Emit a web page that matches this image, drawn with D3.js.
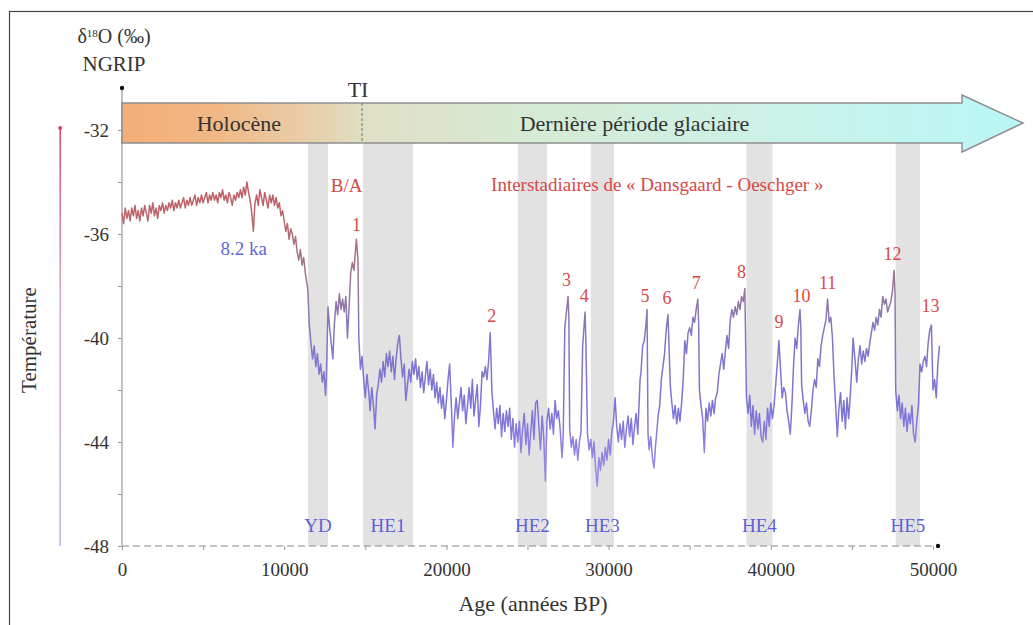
<!DOCTYPE html>
<html><head><meta charset="utf-8">
<script src="https://cdn.jsdelivr.net/npm/d3@7/dist/d3.min.js"></script>
<style>
html,body{margin:0;padding:0;background:#fff;}
svg text{font-family:"Liberation Serif","DejaVu Serif",serif;}
</style></head>
<body><svg id="chart" width="1033" height="625"></svg>
<script>
// ---------- DATA ----------
// NGRIP δ18O record: [age in ka BP, δ18O ‰]
const ngrip = [
[0,-35.2],[0.1,-35.6],[0.2,-35.0],[0.3,-35.4],[0.4,-35.1],[0.5,-35.5],[0.6,-35.0],[0.7,-35.3],[0.8,-34.9],[0.9,-35.4],[1.0,-35.1],[1.1,-35.5],[1.2,-35.0],[1.3,-35.3],[1.4,-34.9],[1.5,-35.2],[1.6,-35.5],[1.7,-34.9],[1.8,-35.2],[1.9,-34.8],[2.0,-35.3],[2.1,-35.0],[2.2,-35.4],[2.3,-34.9],[2.4,-35.1],[2.5,-34.8],[2.6,-35.2],[2.7,-34.9],[2.8,-35.1],[2.9,-34.8],[3.0,-35.0],[3.1,-34.7],[3.2,-35.1],[3.3,-34.8],[3.4,-35.0],[3.5,-34.7],[3.6,-35.0],[3.7,-34.8],[3.8,-34.6],[3.9,-35.0],[4.0,-34.7],[4.1,-34.9],[4.2,-34.6],[4.3,-34.9],[4.4,-34.7],[4.5,-34.5],[4.6,-34.9],[4.7,-34.6],[4.8,-34.8],[4.9,-34.5],[5.0,-34.8],[5.1,-34.6],[5.2,-34.4],[5.3,-34.8],[5.4,-34.5],[5.5,-34.7],[5.6,-34.4],[5.7,-34.7],[5.8,-34.5],[5.9,-34.8],[6.0,-34.4],[6.1,-34.6],[6.2,-34.3],[6.3,-34.7],[6.4,-34.5],[6.5,-34.8],[6.6,-34.4],[6.7,-34.6],[6.8,-34.9],[6.9,-34.5],[7.0,-34.7],[7.1,-34.4],[7.2,-34.6],[7.3,-34.3],[7.4,-34.6],[7.5,-34.2],[7.6,-34.5],[7.7,-34.0],[7.8,-34.4],[7.9,-34.7],[8.0,-35.2],[8.1,-35.9],[8.15,-35.3],[8.2,-34.8],[8.3,-34.5],[8.4,-34.9],[8.5,-34.3],[8.6,-34.6],[8.7,-34.9],[8.8,-34.4],[8.9,-34.7],[9.0,-35.0],[9.1,-34.5],[9.2,-34.8],[9.3,-34.5],[9.4,-34.9],[9.5,-34.6],[9.6,-35.0],[9.7,-34.8],[9.8,-35.3],[9.9,-35.1],[10.0,-35.5],[10.1,-35.9],[10.2,-35.6],[10.3,-36.2],[10.4,-35.8],[10.5,-36.0],[10.6,-36.4],[10.7,-36.1],[10.8,-36.7],[10.9,-37.0],[11.0,-36.6],[11.1,-37.2],[11.2,-36.9],[11.3,-37.5],[11.4,-37.9],[11.45,-38.1],
[11.55,-39.5],[11.65,-40.2],[11.75,-40.8],[11.85,-40.3],[11.95,-41.1],[12.05,-40.6],[12.15,-41.4],[12.25,-41.0],[12.35,-41.7],[12.45,-41.3],[12.55,-42.2],[12.6,-41.5],[12.7,-38.8],[12.8,-39.6],[12.9,-40.2],[13.0,-40.8],[13.1,-39.4],[13.2,-38.6],[13.3,-39.1],[13.4,-38.3],[13.5,-38.9],[13.6,-38.5],[13.7,-39.0],[13.8,-38.4],[13.9,-40.0],[14.0,-38.8],[14.1,-37.5],[14.2,-37.1],[14.3,-37.4],[14.4,-36.6],[14.45,-36.2],[14.55,-37.0],[14.6,-40.0],
[14.7,-41.2],[14.8,-40.7],[14.9,-41.6],[15.0,-42.3],[15.1,-41.4],[15.2,-42.0],[15.3,-42.8],[15.4,-41.9],[15.5,-42.6],[15.6,-43.5],[15.7,-42.2],[15.8,-41.8],[15.9,-41.2],[16.0,-41.7],[16.1,-40.9],[16.2,-41.5],[16.3,-40.6],[16.4,-41.1],[16.5,-40.5],[16.6,-41.3],[16.7,-40.7],[16.8,-41.6],[16.9,-40.8],[17.0,-40.2],[17.1,-39.9],[17.2,-40.8],[17.3,-41.5],[17.4,-41.0],[17.5,-42.4],[17.6,-41.8],[17.7,-41.2],[17.8,-41.7],[17.9,-40.9],[18.0,-41.4],[18.1,-40.8],[18.2,-41.6],[18.3,-41.1],[18.4,-41.9],[18.5,-41.3],[18.6,-42.1],[18.7,-41.5],[18.8,-40.9],[18.9,-41.8],[19.0,-41.2],[19.1,-42.0],[19.2,-41.4],[19.3,-42.3],[19.4,-41.7],[19.5,-42.5],[19.6,-41.9],[19.7,-42.7],[19.8,-42.2],[19.9,-43.1],[20.0,-42.4],[20.1,-41.6],[20.2,-41.0],[20.3,-42.5],[20.4,-44.2],[20.5,-43.0],[20.6,-42.3],[20.7,-43.1],[20.8,-42.5],[20.9,-41.9],[21.0,-42.8],[21.1,-42.2],[21.2,-43.3],[21.3,-42.6],[21.4,-41.9],[21.5,-42.7],[21.6,-41.6],[21.7,-43.0],[21.8,-42.4],[21.9,-41.8],[22.0,-43.4],[22.1,-42.6],[22.2,-41.3],[22.3,-41.5],[22.4,-41.1],[22.5,-41.6],[22.6,-40.9],[22.7,-39.8],[22.75,-40.8],
[22.8,-42.0],[22.9,-42.8],[23.0,-43.5],[23.1,-42.7],[23.2,-43.3],[23.3,-42.6],[23.4,-43.8],[23.5,-42.9],[23.6,-43.6],[23.7,-42.8],[23.8,-43.4],[23.9,-42.7],[24.0,-43.9],[24.1,-43.1],[24.2,-44.2],[24.3,-43.3],[24.4,-44.0],[24.5,-43.2],[24.6,-44.4],[24.7,-43.5],[24.8,-42.9],[24.9,-44.1],[25.0,-43.3],[25.1,-44.5],[25.2,-43.6],[25.3,-42.8],[25.4,-43.9],[25.5,-42.5],[25.6,-42.4],[25.7,-43.4],[25.8,-44.3],[25.9,-43.0],[26.0,-43.8],[26.1,-45.5],[26.2,-43.2],
[26.3,-42.7],[26.4,-43.5],[26.5,-42.9],[26.6,-43.7],[26.7,-42.4],[26.8,-43.1],[26.9,-42.8],[27.0,-43.4],[27.13,-44.6],[27.2,-43.8],[27.3,-39.6],[27.5,-38.4],[27.55,-39.2],[27.6,-43.5],[27.7,-44.2],[27.8,-43.8],[27.9,-44.5],[28.0,-43.9],[28.1,-44.7],[28.2,-44.0],[28.3,-43.6],[28.4,-40.3],[28.55,-39.0],[28.6,-40.2],[28.7,-43.7],[28.8,-44.3],[28.9,-43.9],[29.0,-44.6],[29.1,-44.0],[29.2,-45.0],[29.3,-45.7],[29.4,-44.6],[29.5,-45.1],[29.6,-44.4],[29.7,-44.9],[29.8,-44.2],[29.9,-44.7],[30.0,-43.9],[30.1,-44.5],[30.2,-43.6],[30.3,-43.2],[30.4,-42.3],[30.5,-43.4],[30.6,-44.0],[30.7,-43.3],[30.8,-43.9],[30.9,-43.2],[31.0,-44.2],[31.1,-43.5],[31.2,-43.0],[31.3,-43.8],[31.4,-43.1],[31.5,-44.1],[31.6,-43.4],[31.7,-42.9],[31.8,-43.7],[31.94,-41.6],[32.0,-41.3],[32.1,-40.3],[32.2,-40.1],[32.3,-39.5],[32.37,-38.9],[32.43,-43.7],[32.5,-44.3],[32.6,-43.8],[32.7,-44.6],[32.8,-45.0],[32.9,-44.1],[33.0,-43.4],[33.05,-43.0],[33.15,-42.6],[33.25,-41.6],[33.35,-41.1],[33.45,-40.6],[33.55,-39.7],[33.66,-39.1],[33.7,-39.8],[33.8,-41.8],[33.9,-42.5],[34.0,-43.1],[34.1,-42.6],[34.2,-43.3],[34.3,-42.7],[34.4,-43.2],[34.5,-42.5],[34.6,-41.6],[34.7,-40.1],[34.8,-40.6],[34.9,-39.8],[35.0,-39.6],[35.1,-39.9],[35.2,-39.2],[35.3,-39.4],[35.4,-38.9],[35.5,-38.5],[35.55,-39.4],[35.6,-42.0],[35.7,-42.6],[35.8,-43.1],[35.9,-44.4],[36.0,-42.7],[36.1,-43.2],[36.2,-42.5],[36.3,-43.0],[36.4,-42.4],[36.5,-42.9],[36.6,-42.3],[36.7,-42.1],[36.8,-41.4],[36.9,-41.0],[37.0,-40.6],[37.1,-41.2],[37.2,-40.5],[37.3,-39.9],[37.4,-40.4],[37.5,-39.3],[37.6,-38.9],[37.7,-39.2],[37.8,-38.8],[37.9,-39.1],[38.0,-38.6],[38.1,-38.9],[38.2,-38.4],[38.3,-38.6],[38.4,-38.1],
[38.5,-42.3],[38.6,-42.9],[38.7,-42.2],[38.8,-43.4],[38.9,-42.6],[39.0,-43.7],[39.1,-42.8],[39.2,-43.5],[39.3,-42.9],[39.4,-43.8],[39.5,-44.0],[39.6,-43.2],[39.7,-43.9],[39.8,-42.7],[39.9,-43.4],[40.0,-42.5],[40.1,-43.1],[40.2,-42.6],[40.3,-41.8],[40.4,-41.0],[40.5,-40.1],[40.6,-41.2],[40.7,-42.3],[40.8,-41.9],[40.9,-42.1],[41.0,-42.8],[41.1,-43.2],[41.2,-43.7],[41.3,-42.6],[41.4,-41.1],[41.5,-40.0],[41.6,-40.4],[41.7,-39.5],[41.8,-38.9],[41.85,-39.6],[41.9,-41.8],[42.0,-42.4],[42.1,-42.9],[42.2,-42.5],[42.3,-43.2],[42.4,-43.4],[42.5,-42.8],[42.6,-42.0],[42.7,-41.6],[42.8,-41.9],[42.9,-40.8],[43.0,-41.1],[43.1,-40.3],[43.2,-39.9],[43.3,-39.6],[43.4,-39.3],[43.5,-38.5],[43.6,-39.4],[43.7,-39.2],[43.8,-40.0],[43.9,-41.5],[44.0,-42.6],[44.1,-43.8],[44.2,-42.7],[44.3,-42.1],[44.4,-43.2],[44.5,-42.4],[44.6,-43.5],[44.7,-42.3],[44.8,-43.1],[44.9,-42.2],[45.0,-41.1],[45.07,-40.0],[45.2,-40.9],[45.3,-41.7],[45.4,-40.8],[45.5,-40.3],[45.6,-41.0],[45.7,-40.5],[45.8,-40.9],[45.9,-40.4],[46.0,-40.7],[46.1,-40.2],[46.2,-39.8],[46.3,-39.4],[46.4,-39.7],[46.5,-39.2],[46.6,-39.5],[46.7,-38.9],[46.8,-39.2],[46.9,-38.4],[47.0,-38.7],[47.1,-38.5],[47.2,-39.0],[47.3,-38.8],[47.4,-38.6],[47.5,-38.2],[47.6,-37.4],[47.66,-38.3],[47.7,-42.0],[47.8,-42.8],[47.9,-42.2],[48.0,-43.1],[48.1,-42.5],[48.2,-43.4],[48.3,-42.7],[48.4,-43.6],[48.5,-42.9],[48.6,-43.3],[48.7,-42.6],[48.8,-43.7],[48.9,-44.0],[49.0,-43.2],[49.1,-42.6],[49.2,-41.0],[49.3,-41.3],[49.4,-40.9],[49.5,-40.7],[49.6,-41.1],[49.7,-40.2],[49.8,-39.7],[49.9,-39.5],[50.0,-42.0],[50.1,-41.6],[50.2,-42.3],[50.3,-41.0],[50.4,-40.3]
];

// Grey bands: Younger Dryas and Heinrich events [start, end] in years BP
const bandNames = ["YD","HE1","HE2","HE3","HE4","HE5"];
const bandStarts = [11470, 14860, 24400, 28900, 38500, 47700];
const bandEnds   = [12700, 17940, 26200, 30330, 40100, 49200];

// Dansgaard-Oeschger interstadial labels [age BP, δ18O of label]
const doLabels = ["1","2","3","4","5","6","7","8","9","10","11","12","13"];
const doAges   = [14450, 22800, 27400, 28500, 32250, 33600, 35400, 38200, 40500, 41900, 43500, 47500, 49850];
const doValues = [-35.9, -39.4, -38.0, -38.6, -38.6, -38.7, -38.1, -37.7, -39.6, -38.6, -38.1, -37.0, -39.0];

const xTicks = [0, 10000, 20000, 30000, 40000, 50000];
const xMinorTicks = [0,5000,10000,15000,20000,25000,30000,35000,40000,45000,50000];
const yTicks = [-48, -44, -40, -36, -32];
const yMinorTicks = [-48,-46,-44,-42,-40,-38,-36,-34,-32];

const periods = ["Holocène", "Dernière période glaciaire"];
const transitionAge = 14800; // TI

// ---------- DRAW ----------
const svg = d3.select("#chart");
const x = d3.scaleLinear().domain([0, 50000]).range([122, 933]);
const y = d3.scaleLinear().domain([-48, -32]).range([546, 130]);
const yTop = 88, arrowTop = 103, arrowBot = 143;

const defs = svg.append("defs");
const ag = defs.append("linearGradient").attr("id","arrowGrad")
  .attr("gradientUnits","userSpaceOnUse").attr("x1",122).attr("x2",1023).attr("y1",0).attr("y2",0);
[[0,"#f4ae78"],[0.1,"#f2b784"],[0.2,"#e9cda6"],[0.27,"#dfdfc4"],[0.45,"#d6ead3"],[0.7,"#cdf1e6"],[1,"#b8f7f7"]]
  .forEach(s=>ag.append("stop").attr("offset",s[0]).attr("stop-color",s[1]));
const lg = defs.append("linearGradient").attr("id","lineGrad")
  .attr("gradientUnits","userSpaceOnUse").attr("x1",0).attr("x2",0).attr("y1",y(-34)).attr("y2",y(-45));
[[0,"#c25c62"],[0.15,"#b86a70"],[0.35,"#9b7896"],[0.55,"#7f78c8"],[0.8,"#7d74d8"],[1,"#9a86e8"]]
  .forEach(s=>lg.append("stop").attr("offset",s[0]).attr("stop-color",s[1]));
const tg = defs.append("linearGradient").attr("id","tempGrad")
  .attr("x1",0).attr("x2",0).attr("y1",0).attr("y2",1);
[[0,"#e0506a"],[0.4,"#d8a8c8"],[1,"#b8b8f0"]]
  .forEach(s=>tg.append("stop").attr("offset",s[0]).attr("stop-color",s[1]));

// frame
svg.append("rect").attr("x",9.5).attr("y",11.5).attr("width",1100).attr("height",700)
  .attr("fill","none").attr("stroke","#444").attr("stroke-width",1.2);

// bands
const bands = bandNames.map((n,i)=>({name:n,s:bandStarts[i],e:bandEnds[i]}));
svg.append("g").selectAll("rect").data(bands).join("rect")
  .attr("x",d=>x(d.s)).attr("width",d=>x(d.e)-x(d.s))
  .attr("y",arrowBot).attr("height",y(-48)-arrowBot)
  .attr("fill","#e2e2e2");

// band labels
svg.append("g").selectAll("text").data(bands).join("text")
  .attr("x",d=>x((d.s+d.e)/2)).attr("y",532)
  .attr("text-anchor","middle").attr("font-size",19).attr("fill","#5f5fd6")
  .text(d=>d.name);

// x axis
const xAxisG = svg.append("g").attr("transform",`translate(0,${y(-48)})`);
xAxisG.append("line").attr("x1",x(0)).attr("x2",938).attr("y1",0).attr("y2",0)
  .attr("stroke","#8a8a8a").attr("stroke-width",1.2).attr("stroke-dasharray","7,4");
xAxisG.append("circle").attr("cx",938).attr("cy",0).attr("r",2.2).attr("fill","#111");
const xMinor = d3.axisBottom(x).tickValues(xMinorTicks).tickSize(4).tickFormat("");
xAxisG.append("g").call(xMinor).call(g=>{g.select(".domain").remove(); g.selectAll("line").attr("stroke","#999");});
const xMajor = d3.axisBottom(x).tickValues(xTicks).tickSize(0).tickPadding(17).tickFormat(d3.format("d"));
xAxisG.append("g").call(xMajor).call(g=>{g.select(".domain").remove();
  g.selectAll("text").attr("font-size",19).attr("fill","#333").style("font-family","Liberation Serif, serif");});

// y axis
const yAxisG = svg.append("g").attr("transform",`translate(${x(0)},0)`);
yAxisG.append("line").attr("x1",0).attr("x2",0).attr("y1",yTop).attr("y2",y(-48))
  .attr("stroke","#9a9a9a").attr("stroke-width",1.2);
yAxisG.append("circle").attr("cx",0).attr("cy",yTop).attr("r",2.2).attr("fill","#111");
const yMinor = d3.axisLeft(y).tickValues(yMinorTicks).tickSize(4).tickFormat("");
yAxisG.append("g").call(yMinor).call(g=>{g.select(".domain").remove(); g.selectAll("line").attr("stroke","#999");});
const yMajor = d3.axisLeft(y).tickValues(yTicks).tickSize(0).tickPadding(13).tickFormat(d=>d);
yAxisG.append("g").call(yMajor).call(g=>{g.select(".domain").remove();
  g.selectAll("text").attr("font-size",19).attr("fill","#333").style("font-family","Liberation Serif, serif");});

// temperature arrow axis
svg.append("rect").attr("x",59.4).attr("y",y(-32)-2).attr("width",1.6).attr("height",y(-48)-y(-32)+2)
  .attr("fill","url(#tempGrad)");
svg.append("circle").attr("cx",60.2).attr("cy",y(-32)-2).attr("r",2).attr("fill","#e0405a");
svg.append("text").attr("transform",`translate(36,340) rotate(-90)`)
  .attr("text-anchor","middle").attr("font-size",21).attr("fill","#333").text("Température");

// arrow banner
const ah = [[x(0),arrowTop],[962,arrowTop],[962,95],[1023,123],[962,152],[962,arrowBot],[x(0),arrowBot]];
svg.append("path").attr("d",d3.line()(ah)+"Z")
  .attr("fill","url(#arrowGrad)").attr("stroke","#8f8f8f").attr("stroke-width",1.5);
svg.append("line").attr("x1",x(transitionAge)).attr("x2",x(transitionAge))
  .attr("y1",arrowTop).attr("y2",arrowBot).attr("stroke","#777").attr("stroke-width",1).attr("stroke-dasharray","3,2");
svg.append("text").attr("x",x(transitionAge)-4).attr("y",97).attr("text-anchor","middle")
  .attr("font-size",22).attr("fill","#333").text("TI");
svg.append("text").attr("x",x(7200)).attr("y",131).attr("text-anchor","middle")
  .attr("font-size",22).attr("fill","#333").text(periods[0]);
svg.append("text").attr("x",x(31600)).attr("y",131).attr("text-anchor","middle")
  .attr("font-size",22).attr("fill","#333").text(periods[1]);

// y title
svg.append("text").attr("x",114).attr("y",43).attr("text-anchor","middle")
  .attr("font-size",20).attr("fill","#333")
  .html('δ<tspan baseline-shift="super" font-size="11">18</tspan>O (‰)');
svg.append("text").attr("x",114).attr("y",71).attr("text-anchor","middle")
  .attr("font-size",21).attr("fill","#333").text("NGRIP");

// data line
const line = d3.line().x(d=>x(d[0]*1000)).y(d=>y(d[1]));
svg.append("path").datum(ngrip).attr("d",line)
  .attr("fill","none").attr("stroke","url(#lineGrad)").attr("stroke-width",1.5).attr("stroke-linejoin","round");

// annotations
svg.append("text").attr("x",x(13850)).attr("y",192).attr("text-anchor","middle")
  .attr("font-size",19).attr("fill","#d84848").text("B/A");
svg.append("text").attr("x",x(33000)).attr("y",191).attr("text-anchor","middle")
  .attr("font-size",19).attr("fill","#d84848").text("Interstadiaires de « Dansgaard - Oeschger »");
svg.append("text").attr("x",x(7500)).attr("y",255).attr("text-anchor","middle")
  .attr("font-size",19).attr("fill","#6464d8").text("8.2 ka");
svg.append("g").selectAll("text").data(doLabels).join("text")
  .attr("x",(d,i)=>x(doAges[i])).attr("y",(d,i)=>y(doValues[i]))
  .attr("text-anchor","middle").attr("font-size",18).attr("fill","#d84848").text(d=>d);

// x title
svg.append("text").attr("x",533).attr("y",611).attr("text-anchor","middle")
  .attr("font-size",22).attr("fill","#333").text("Age (années BP)");
</script></body></html>
